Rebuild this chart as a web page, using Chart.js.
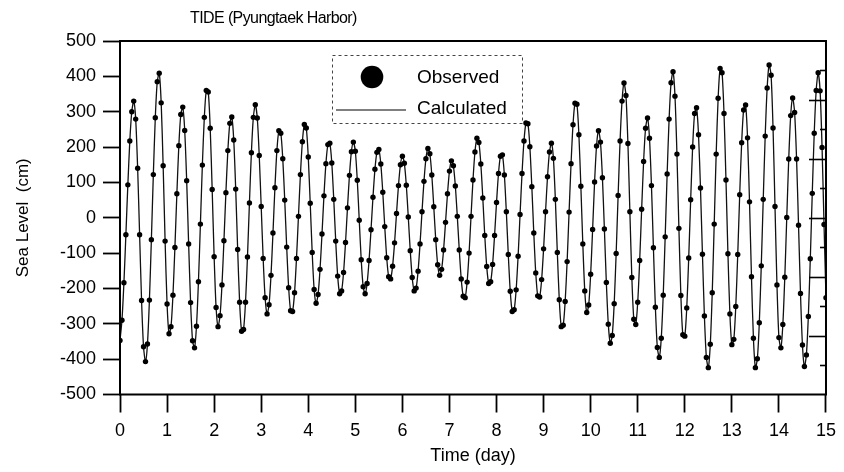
<!DOCTYPE html>
<html>
<head>
<meta charset="utf-8">
<title>TIDE (Pyungtaek Harbor)</title>
<script src="https://cdn.jsdelivr.net/npm/chart.js@4.4.0/dist/chart.umd.min.js"></script>
<style>
  html, body { margin: 0; padding: 0; background: #fff; }
  canvas { display: block; }
</style>
</head>
<body>
<canvas id="tideChart" width="844" height="472"></canvas>
<script>
// hourly sea level (cm), hour 0 .. hour 360, one row per day
const observedCm = [
  -347, -290, -184, -48, 93, 217, 300, 330, 279, 140, -48, -234, -365, -407, -357, -233, -62, 122, 283, 385, 409, 325, 147, -66,
  -244, -328, -308, -219, -84, 68, 204, 292, 313, 247, 105, -74, -240, -348, -368, -307, -181, -18, 149, 284, 360, 356, 253, 80,
  -110, -254, -308, -277, -190, -65, 71, 190, 267, 285, 220, 81, -90, -239, -321, -316, -239, -111, 42, 184, 284, 320, 282, 176,
  32, -115, -226, -272, -246, -163, -43, 85, 190, 246, 239, 167, 50, -83, -198, -263, -265, -212, -115, 4, 122, 215, 264, 254,
  172, 41, -98, -203, -242, -217, -146, -46, 62, 153, 207, 211, 155, 52, -66, -165, -215, -207, -155, -70, 28, 120, 187, 214,
  188, 106, -7, -119, -195, -215, -186, -121, -34, 58, 137, 185, 193, 152, 72, -25, -113, -167, -173, -137, -71, 12, 91, 150,
  174, 154, 92, 2, -93, -169, -207, -199, -151, -74, 17, 103, 167, 196, 181, 121, 31, -62, -133, -163, -146, -91, -13, 68,
  132, 161, 147, 90, 4, -91, -173, -222, -226, -182, -100, 4, 107, 186, 225, 213, 152, 56, -50, -138, -186, -181, -132, -50,
  43, 125, 174, 178, 121, 17, -104, -208, -265, -260, -204, -109, 9, 125, 217, 268, 266, 201, 88, -43, -156, -221, -224, -175,
  -88, 17, 116, 186, 211, 168, 52, -98, -232, -308, -304, -237, -124, 16, 153, 263, 324, 321, 235, 89, -74, -207, -268, -247,
  -160, -33, 101, 203, 246, 214, 113, -32, -183, -301, -355, -333, -243, -101, 63, 217, 330, 381, 346, 210, 17, -169, -287, -302,
  -239, -121, 24, 159, 253, 282, 225, 91, -85, -253, -367, -395, -341, -219, -54, 124, 279, 382, 413, 344, 180, -30, -220, -331,
  -335, -255, -114, 51, 200, 295, 311, 235, 84, -103, -278, -395, -424, -358, -212, -18, 180, 338, 422, 410, 295, 107, -102, -272,
  -359, -344, -251, -104, 65, 212, 305, 319, 226, 45, -167, -341, -424, -399, -297, -136, 52, 231, 367, 432, 403, 254, 32, -190,
  -339, -368, -302, -168, 1, 166, 289, 339, 298, 166, -21, -214, -360, -421, -388, -279, -116, 69, 239, 360, 410, 359, 199, -19,
  -226
];
// the harmonic fit lies on the observations at this scale
const calculatedCm = observedCm;
const sampleStepHours = 1;

const dayTicks = [0, 1, 2, 3, 4, 5, 6, 7, 8, 9, 10, 11, 12, 13, 14, 15];
const levelTicks = [-500, -400, -300, -200, -100, 0, 100, 200, 300, 400, 500];
const rightSteps = 12; // unlabelled inner scale on the right frame

const chartTitle = 'TIDE (Pyungtaek Harbor)';
const seriesNames = ['Observed', 'Calculated'];

const toPoints = arr => arr.map((v, i) => ({ x: i * sampleStepHours / 24, y: v }));

const FONT = '"Liberation Sans", Arial, Helvetica, sans-serif';

const decorPlugin = {
  id: 'decor',
  afterDraw(chart) {
    const { ctx, chartArea: a } = chart;
    ctx.save();
    // frame
    ctx.strokeStyle = '#000';
    ctx.lineWidth = 2;
    ctx.strokeRect(a.left, a.top, a.right - a.left, a.bottom - a.top);

    // inward ticks on the right side
    const y2 = chart.scales.y2;
    ctx.lineWidth = 1.6;
    for (let v = 1; v < rightSteps; v++) {
      const y = Math.round(y2.getPixelForValue(v)) + 0.5;
      const len = v % 2 === 0 ? 17 : 6;
      ctx.beginPath();
      ctx.moveTo(a.right, y);
      ctx.lineTo(a.right - len, y);
      ctx.stroke();
    }

    // title
    ctx.fillStyle = '#000';
    ctx.textBaseline = 'middle';
    ctx.font = '16px ' + FONT;
    ctx.letterSpacing = '-0.6px';
    ctx.fillText(chartTitle, 190, 19);
    ctx.letterSpacing = '0px';

    // legend box
    const lx = a.left + 212, ly = a.top + 14;
    ctx.lineWidth = 1;
    ctx.strokeStyle = '#444';
    ctx.setLineDash([3, 3]);
    ctx.strokeRect(lx + 0.5, ly + 0.5, 190, 68);
    ctx.setLineDash([]);

    ctx.fillStyle = '#000';
    ctx.beginPath();
    ctx.arc(lx + 40, ly + 22, 11.3, 0, Math.PI * 2);
    ctx.fill();

    ctx.strokeStyle = '#000';
    ctx.lineWidth = 1.2;
    ctx.beginPath();
    ctx.moveTo(lx + 4, ly + 55);
    ctx.lineTo(lx + 74, ly + 55);
    ctx.stroke();

    ctx.font = '19px ' + FONT;
    ctx.fillText(seriesNames[0], lx + 85, ly + 23);
    ctx.fillText(seriesNames[1], lx + 85, ly + 54);
    ctx.restore();
  }
};

new Chart(document.getElementById('tideChart'), {
  type: 'line',
  data: {
    datasets: [
      {
        label: seriesNames[0],
        data: toPoints(observedCm),
        showLine: false,
        pointRadius: 2.7,
        pointBackgroundColor: '#000',
        pointBorderWidth: 0,
        pointHoverRadius: 2.7
      },
      {
        label: seriesNames[1],
        data: toPoints(calculatedCm),
        borderColor: '#111',
        borderWidth: 1.3,
        pointRadius: 0,
        tension: 0.25,
        fill: false
      }
    ]
  },
  options: {
    responsive: false,
    animation: false,
    devicePixelRatio: 1,
    layout: { padding: { top: 41, right: 11.5, left: 0, bottom: 0 } },
    plugins: {
      legend: { display: false },
      title: { display: false },
      tooltip: { enabled: false }
    },
    scales: {
      x: {
        type: 'linear',
        min: 0,
        max: 15,
        afterFit: s => { s.height = 77.5; },
        afterBuildTicks: s => { s.ticks = dayTicks.map(v => ({ value: v })); },
        grid: { drawOnChartArea: false, drawTicks: true, tickLength: 18, tickWidth: 1.8, tickColor: '#000' },
        border: { display: false },
        ticks: { color: '#000', font: { family: FONT, size: 18 }, padding: 8, maxRotation: 0, autoSkip: false },
        title: { display: true, text: 'Time (day)', color: '#000', font: { family: FONT, size: 18 }, padding: { top: 0, bottom: 5 } }
      },
      y: {
        min: -500,
        max: 500,
        afterFit: s => { s.width = 120; },
        afterBuildTicks: s => { s.ticks = levelTicks.map(v => ({ value: v })); },
        grid: { drawOnChartArea: false, drawTicks: true, tickLength: 17, tickWidth: 1.8, tickColor: '#000' },
        border: { display: false },
        ticks: { color: '#000', font: { family: FONT, size: 18 }, padding: 7 },
        title: { display: true, text: 'Sea Level  (cm)', color: '#000', font: { family: FONT, size: 17 }, padding: { top: 13, bottom: 0 } }
      },
      y2: {
        display: false,
        position: 'right',
        min: 0,
        max: rightSteps
      }
    }
  },
  plugins: [decorPlugin]
});
</script>
</body>
</html>
